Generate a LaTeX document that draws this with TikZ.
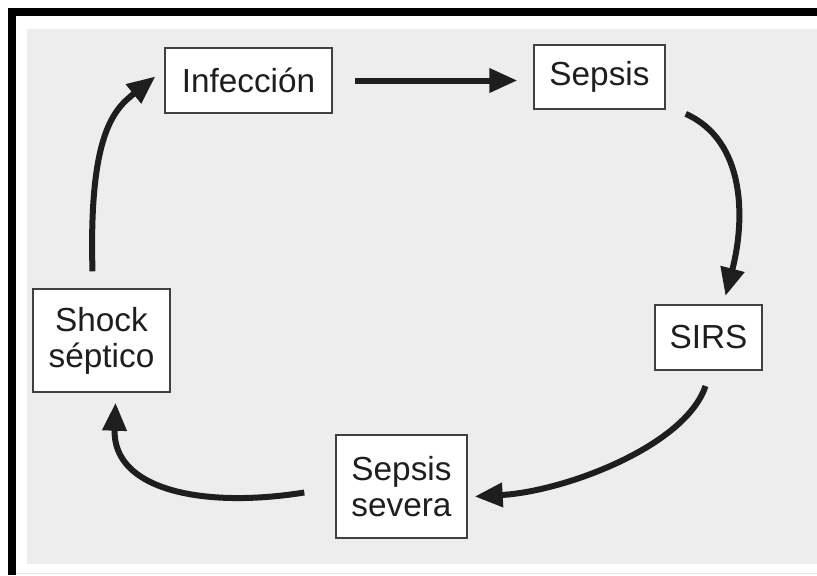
\documentclass[tikz,border=0pt]{standalone}
\usepackage{fontspec}
\setmainfont{Liberation Sans}
\usepackage{tikz}
\usetikzlibrary{shapes,arrows,arrows.meta,positioning}
\definecolor{fondogris}{RGB}{237,237,237}
\definecolor{bordegris}{RGB}{64,64,64}
\definecolor{tinta}{RGB}{30,30,30}
\definecolor{lineatenue}{RGB}{228,228,228}

\begin{document}
\begin{tikzpicture}[x=0.75pt, y=-0.75pt,
    caja/.style={draw=bordegris, line width=1.3pt, fill=white, align=center,
        text=tinta, font=\fontsize{25pt}{27pt}\selectfont, inner sep=0pt},
    flecha/.style={draw=tinta, line width=4.5pt,
        -{Triangle[length=21pt, width=17.5pt]}}]
    % marco y fondo
    \useasboundingbox (0,0) rectangle (817,575);
    \fill[fondogris] (27,29) rectangle (817,564);
    \fill[black] (8,8) rectangle (16,575);
    \fill[black] (8,8) rectangle (817,16);
    \draw[lineatenue, line width=1pt] (16,573.5) -- (817,573.5);

    % etapas
    \node[caja, minimum width=125pt, minimum height=49pt] (infeccion) at (248.5,80.5) {Infección};
    \node[caja, minimum width=98pt, minimum height=48pt] (sepsis) at (599.5,77) {Sepsis};
    \node[caja, minimum width=80pt, minimum height=49pt] (sirs) at (708.5,337.5) {SIRS};
    \node[caja, minimum width=98pt, minimum height=77pt] (severa) at (401.5,486.5) {Sepsis\\severa};
    \node[caja, minimum width=103pt, minimum height=77pt] (shock) at (101.5,340.5) {Shock\\séptico};

    % ciclo
    \draw[flecha, shorten <=17pt, shorten >=12pt] (infeccion.east) -- (infeccion.east -| sepsis.west);
    \draw[flecha] ([shift={(20,4)}]sepsis.south east)
        .. controls +(60,27) and +(20,-77) .. ([shift={(17,-8)}]sirs.north);
    \draw[flecha] ([shift={(-3,15)}]sirs.south)
        .. controls +(-20,60) and +(90,-5) .. ([shift={(7,10)}]severa.east);
    \draw[flecha] ([shift={(-31,6)}]severa.west)
        .. controls +(-100,16) and +(-3,88) .. ([shift={(14,10)}]shock.south);
    \draw[flecha] ([shift={(-9,-17)}]shock.north)
        .. controls +(-4,-140) and +(-40,32) .. ([shift={(-9,-4)}]infeccion.west);
\end{tikzpicture}
\end{document}
